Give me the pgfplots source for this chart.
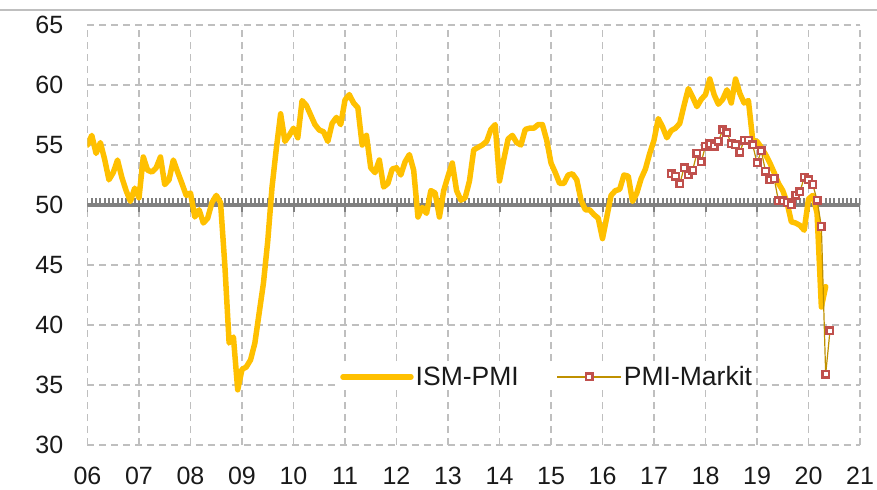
\documentclass[border=0pt]{standalone}
\usepackage{fontspec}
\setmainfont{Liberation Sans}
\usepackage{pgfplots}
\usepackage{pgfplotstable}
\pgfplotsset{compat=1.18}
\definecolor{ismgold}{HTML}{FFC000}
\definecolor{markitred}{HTML}{C0504D}
\definecolor{markitline}{HTML}{BF9000}
\definecolor{gridgray}{HTML}{BFBFBF}
\definecolor{fiftygray}{HTML}{808080}
\definecolor{txt}{HTML}{1A1A1A}
\pgfplotsset{
  ismlegend/.style={legend image code/.code={\draw[##1] (0bp,0bp) -- (68bp,0bp);}},
  markitlegend/.style={legend image code/.code={\draw[##1, mark repeat=2, mark phase=2] plot coordinates {(0bp,0bp) (32bp,0bp) (64bp,0bp)};}},
}

% month index n: 0 = Jan 2006
\pgfplotstableread{
n v
0 55.0
1 55.8
2 54.3
3 55.2
4 53.8
5 52.1
6 52.7
7 53.75
8 52.3
9 51.2
10 50.3
11 51.4
12 50.6
13 54.0
14 52.9
15 52.75
16 53.1
17 54.0
18 51.7
19 52.1
20 53.75
21 52.75
22 51.8
23 50.8
24 51.0
25 49.0
26 49.6
27 48.5
28 48.9
29 50.2
30 50.8
31 50.2
32 45.0
33 38.5
34 39.0
35 34.6
36 36.3
37 36.5
38 37.1
39 38.5
40 41.0
41 43.5
42 47.0
43 51.5
44 54.7
45 57.6
46 55.3
47 55.8
48 56.4
49 55.6
50 58.7
51 58.3
52 57.5
53 56.7
54 56.25
55 56.1
56 55.3
57 56.8
58 57.3
59 56.7
60 58.75
61 59.2
62 58.5
63 58.1
64 55.0
65 55.8
66 53.1
67 52.7
68 53.75
69 51.5
70 51.8
71 53.0
72 53.1
73 52.5
74 53.6
75 54.2
76 52.9
77 49.0
78 49.8
79 49.3
80 51.2
81 51.0
82 49.0
83 51.2
84 52.4
85 53.5
86 51.2
87 50.4
88 50.6
89 52.0
90 54.6
91 54.8
92 55.0
93 55.3
94 56.3
95 56.7
96 52.0
97 53.8
98 55.5
99 55.8
100 55.2
101 55.0
102 56.3
103 56.4
104 56.4
105 56.7
106 56.7
107 55.4
108 53.5
109 52.7
110 51.8
111 51.8
112 52.5
113 52.6
114 52.1
115 50.4
116 49.6
117 49.6
118 49.2
119 48.9
120 47.2
121 49.0
122 50.8
123 51.2
124 51.3
125 52.5
126 52.4
127 50.3
128 51.0
129 52.2
130 53.0
131 54.3
132 55.4
133 57.2
134 56.5
135 55.6
136 56.2
137 56.4
138 56.8
139 58.3
140 59.7
141 59.0
142 58.2
143 58.8
144 59.2
145 60.5
146 59.2
147 58.4
148 58.8
149 59.6
150 58.5
151 60.5
152 59.3
153 58.5
154 58.7
155 55.4
156 55.3
157 54.8
158 54.2
159 53.5
160 52.7
161 51.8
162 51.2
163 50.2
164 48.6
165 48.5
166 48.3
167 47.9
168 50.5
169 50.8
170 49.3
171 41.5
172 43.2
}\ismdata

\pgfplotstableread{
n v
136 52.6
137 52.4
138 51.75
139 53.1
140 52.5
141 52.9
142 54.3
143 53.6
144 54.9
145 55.1
146 54.9
147 55.3
148 56.25
149 56.0
150 55.1
151 55.0
152 54.4
153 55.4
154 55.4
155 55.0
156 53.5
157 54.5
158 52.8
159 52.1
160 52.2
161 50.35
162 50.35
163 50.2
164 50.0
165 50.8
166 51.1
167 52.3
168 52.1
169 51.7
170 50.4
171 48.2
172 35.9
173 39.5
}\markitdata

\begin{document}
\begin{tikzpicture}
\path[use as bounding box] (-87.5bp,-45bp) rectangle (789.5bp,445bp);
\draw[gridgray, line width=1.2bp] (-87.5bp,435bp) -- (789.5bp,435bp);
\begin{axis}[
  scale only axis, width=772.5bp, height=420bp,
  xmin=0, xmax=180, ymin=30, ymax=65,
  axis line style={draw=none},
  xtick={0,12,...,180},
  xticklabels={06,07,08,09,10,11,12,13,14,15,16,17,18,19,20,21},
  ytick={30,35,...,65},
  major tick length=0pt,
  grid=major,
  major grid style={gridgray, line width=1.2bp, dash pattern=on 7bp off 5bp},
  tick label style={font=\fontsize{25bp}{30bp}\selectfont, text=txt, inner sep=0pt},
  xticklabel style={anchor=north, yshift=-22bp},
  yticklabel style={anchor=east, xshift=-24bp},
  /pgf/number format/assume math mode=true,
  legend style={at={(0.595,0.162)}, anchor=center, draw=none, fill=white,
    font=\fontsize{26.5bp}{30bp}\selectfont, text=txt, inner sep=1bp,
    nodes={inner sep=2bp},
    /tikz/every even column/.append style={column sep=36bp}},
  legend columns=2,
]
\addplot[fiftygray, line width=4bp, forget plot] coordinates {(0,50) (180,50)};
\pgfplotsinvokeforeach{0,...,180}{\draw[fiftygray, line width=2bp] (axis cs:#1,50) -- ++(0bp,6.5bp);}
\pgfplotsinvokeforeach{0,12,...,180}{\draw[fiftygray, line width=2bp] (axis cs:#1,50) -- ++(0bp,-7bp);}
\addplot[ismgold, line width=5.5bp, line join=round, line cap=round, ismlegend]
  table[x=n, y=v] {\ismdata};
\addlegendentry{ISM-PMI}
\addplot[markitline, line width=1.2bp, mark=square*, mark size=3.3bp,
  mark options={solid, draw=markitred, fill=white, line width=2.4bp}, markitlegend]
  table[x=n, y=v] {\markitdata};
\addlegendentry{PMI-Markit}
\end{axis}
\end{tikzpicture}
\end{document}
